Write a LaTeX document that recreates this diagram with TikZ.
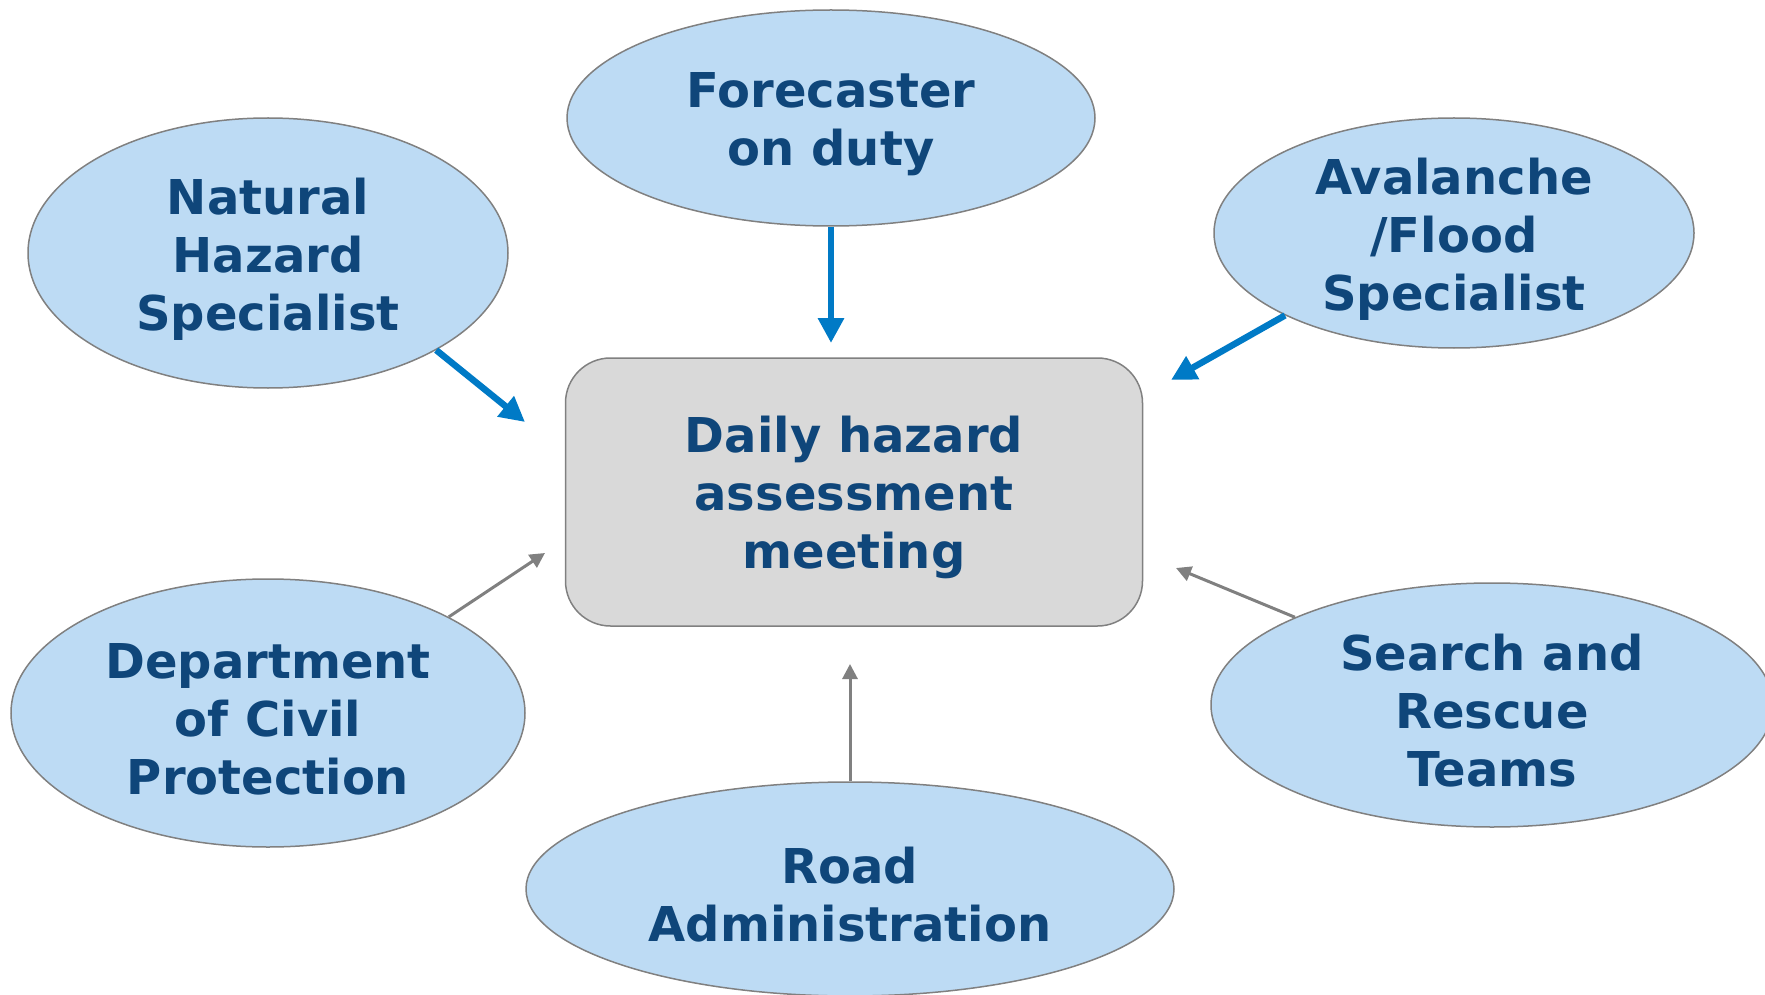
\documentclass[tikz,border=0pt]{standalone}
\usepackage{fontspec}
\setsansfont{DejaVu Sans}
\usepackage{tikz}
\usetikzlibrary{shapes.geometric,arrows.meta}
\definecolor{bubblefill}{RGB}{189,219,244}
\definecolor{boxfill}{RGB}{217,217,217}
\definecolor{edgegray}{RGB}{128,128,128}
\definecolor{ink}{RGB}{15,70,122}
\definecolor{feedblue}{RGB}{0,122,198}
\newcommand{\topstrut}{\rule{0pt}{48pt}}

\begin{document}
\begin{tikzpicture}[x=1pt,y=-1pt,
  font=\sffamily\bfseries\fontsize{48}{58}\selectfont,
  bubble/.style={ellipse,draw=edgegray,line width=1.5pt,fill=bubblefill,text=ink,inner sep=-15pt,align=center},
  meeting/.style={rectangle,rounded corners=45pt,draw=edgegray,line width=1.5pt,fill=boxfill,text=ink,inner sep=0pt,align=center},
  strong/.style={draw=feedblue,line width=6.5pt,-{Triangle[length=25pt,width=25pt]}},
  weak/.style={draw=edgegray,line width=3pt,-{Triangle[length=15pt,width=15pt]}}]
\useasboundingbox (0,0) rectangle (1765,995);
% centre box
\node[meeting,minimum width=577pt,minimum height=268pt] (mtg) at (854,492) {\topstrut Daily hazard\\assessment\\meeting};
% the six sources
\node[bubble,minimum width=528pt,minimum height=216pt] (fc) at (831,118) {\topstrut Forecaster\\on duty};
\node[bubble,minimum width=480pt,minimum height=270pt] (nat) at (268,253) {\topstrut Natural\\Hazard\\Specialist};
\node[bubble,minimum width=480pt,minimum height=230pt] (ava) at (1454,233) {\topstrut Avalanche\\/Flood\\Specialist};
\node[bubble,minimum width=514pt,minimum height=268pt] (civ) at (268,713) {\topstrut Department\\of Civil\\Protection};
\node[bubble,minimum width=648pt,minimum height=214pt] (road) at (850,889) {\topstrut Road\\Administration};
\node[bubble,minimum width=562pt,minimum height=244pt] (sar) at (1492,705) {\topstrut Search and\\Rescue\\Teams};
% arrow tips
\coordinate (tfc) at (831,343);
\coordinate (tnat) at (525,422);
\coordinate (tava) at (1171,380);
\coordinate (tciv) at (545,553);
\coordinate (troad) at (850,664);
\coordinate (tsar) at (1176,568);
\draw[strong] (fc.south) -- (tfc);
\draw[strong] (nat.-30) -- (tnat);
\draw[strong] (ava.206) -- (tava);
\draw[weak] (civ.28) -- (tciv);
\draw[weak] (road.north) -- (troad);
\draw[weak] (sar.156) -- (tsar);
\end{tikzpicture}
\end{document}
